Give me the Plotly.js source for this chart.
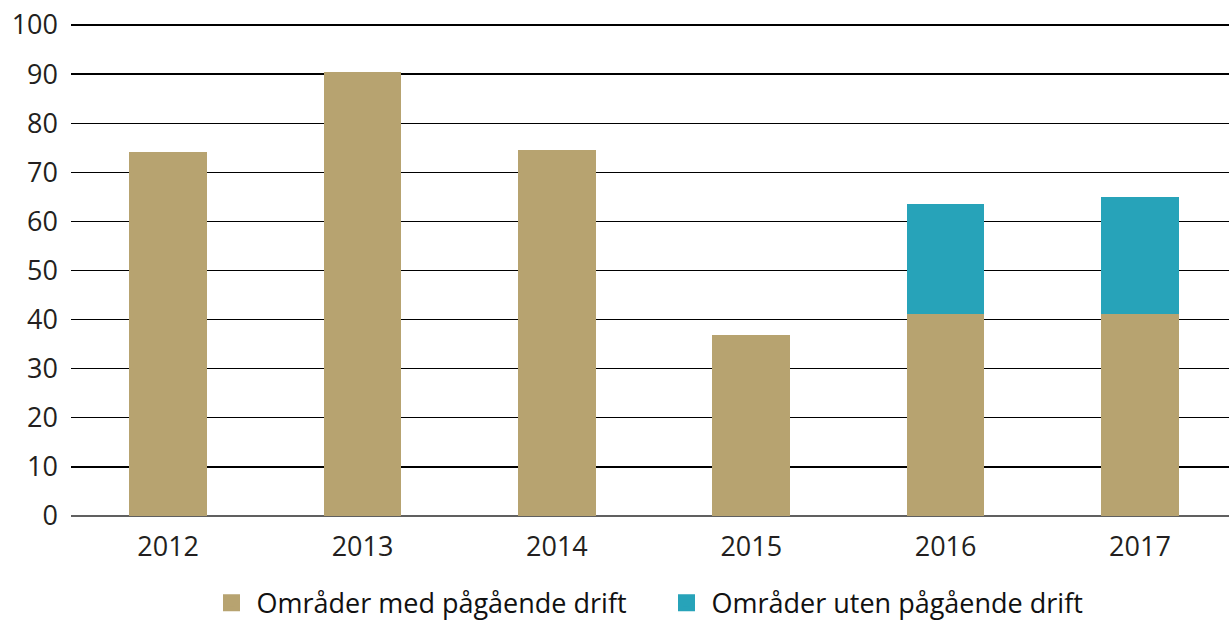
<!DOCTYPE html>
<html>
<head>
<meta charset="utf-8">
<script src="https://cdn.plot.ly/plotly-3.0.1.min.js"></script>
<style>
  html, body { margin: 0; padding: 0; background: #fff; }
  #chart { width: 1229px; height: 620px; }
</style>
</head>
<body>
<div id="chart"></div>
<script>
// Områder med / uten pågående drift, 2012–2017
const years = ["2012", "2013", "2014", "2015", "2016", "2017"];
const medDrift = [74.2, 90.5, 74.6, 36.9, 41.1, 41.1];
const utenDrift = [null, null, null, null, 22.4, 23.8];
const seriesNames = ["Områder med pågående drift", "Områder uten pågående drift"];
const seriesColors = ["#b7a370", "#27a3b9"];

const TXT = "#231f20";
const FONT = "Open Sans, DejaVu Sans, sans-serif";

const traces = [
  { type: "bar", x: years, y: medDrift, name: seriesNames[0],
    marker: { color: seriesColors[0] }, showlegend: false, hoverinfo: "y" },
  { type: "bar", x: years, y: utenDrift, name: seriesNames[1],
    marker: { color: seriesColors[1] }, showlegend: false, hoverinfo: "y" },
];
// legend-only entries: empty bars with a thick outline so the key squares come out bigger
seriesNames.forEach((n, i) => {
  traces.push({ type: "bar", x: [years[0]], y: [null], name: n,
    marker: { color: seriesColors[i], line: { color: seriesColors[i], width: 16 } },
    hoverinfo: "skip" });
});

const layout = {
  width: 1229, height: 620,
  paper_bgcolor: "#fff", plot_bgcolor: "#fff",
  font: { family: FONT, color: TXT, size: 27 },
  margin: { l: 71, r: 0, t: 22, b: 104 },
  barmode: "stack",
  bargap: 0.6,
  xaxis: {
    type: "category", range: [-0.5, 5.458],
    showgrid: false, showline: false, ticks: "",
    ticklabelstandoff: 12,
    tickfont: { size: 27, color: TXT },
  },
  yaxis: {
    range: [0, 100.6], dtick: 10, tick0: 0,
    gridcolor: "#000", gridwidth: 1.3,
    zeroline: true, zerolinecolor: "#606060", zerolinewidth: 2,
    showline: false, ticks: "",
    ticklabelstandoff: 12,
    tickfont: { size: 27, color: TXT },
  },
  showlegend: true,
  legend: {
    orientation: "h", x: 0.117, xanchor: "left",
    yref: "container", y: 0.027, yanchor: "middle",
    entrywidth: 400, itemwidth: 40, tracegroupgap: 0,
    font: { size: 27, color: "#111" }, traceorder: "normal",
  },
};

Plotly.newPlot("chart", traces, layout, { displayModeBar: false, staticPlot: true });
</script>
</body>
</html>
